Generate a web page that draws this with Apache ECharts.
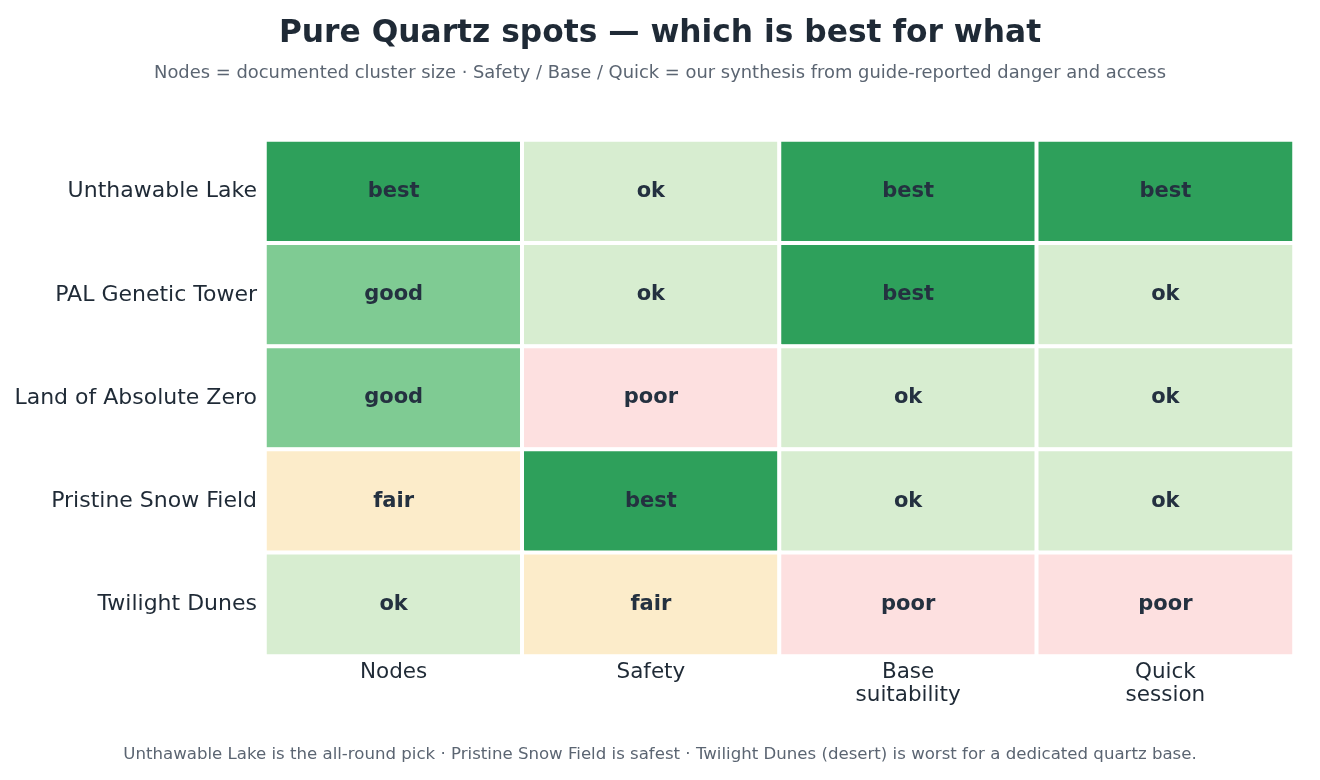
<!DOCTYPE html>
<html>
<head>
<meta charset="utf-8">
<script src="https://cdn.jsdelivr.net/npm/echarts@6/dist/echarts.min.js"></script>
<style>
  html, body { margin: 0; padding: 0; background: #fff; }
  #main { width: 1320px; height: 780px; }
</style>
</head>
<body>
<div id="main"></div>
<script>
// spots (rows, top to bottom) and criteria (columns)
var spots = ['Unthawable Lake', 'PAL Genetic Tower', 'Land of Absolute Zero', 'Pristine Snow Field', 'Twilight Dunes'];
var criteria = ['Nodes', 'Safety', 'Base\nsuitability', 'Quick\nsession'];
// rating scale, index = numeric level
var levels = ['poor', 'fair', 'ok', 'good', 'best'];
var levelColors = ['#fde0e0', '#fcecca', '#d7edd0', '#7fcb93', '#2ea05b'];
// ratings per spot, in criteria order
var ratings = [
  ['best', 'ok', 'best', 'best'],
  ['good', 'ok', 'best', 'ok'],
  ['good', 'poor', 'ok', 'ok'],
  ['fair', 'best', 'ok', 'ok'],
  ['ok', 'fair', 'poor', 'poor']
];

var data = [];
for (var r = 0; r < spots.length; r++) {
  for (var c = 0; c < criteria.length; c++) {
    data.push([c, r, levels.indexOf(ratings[r][c])]);
  }
}

var myChart = echarts.init(document.getElementById('main'));
var font = 'DejaVu Sans';
var option = {
  backgroundColor: '#fff',
  textStyle: { fontFamily: font },
  title: [
    {
      text: 'Pure Quartz spots \u2014 which is best for what',
      left: 'center', top: 13,
      textStyle: { fontFamily: font, fontSize: 31.3, fontWeight: 'bold', color: '#1f2a36' }
    },
    {
      text: 'Nodes = documented cluster size \u00b7 Safety / Base / Quick = our synthesis from guide-reported danger and access',
      left: 'center', top: 59,
      textStyle: { fontFamily: font, fontSize: 17.9, fontWeight: 'normal', color: '#5b6572' }
    },
    {
      text: 'Unthawable Lake is the all-round pick \u00b7 Pristine Snow Field is safest \u00b7 Twilight Dunes (desert) is worst for a dedicated quartz base.',
      left: 'center', top: 741,
      textStyle: { fontFamily: font, fontSize: 16.6, fontWeight: 'normal', color: '#5b6572' }
    }
  ],
  grid: { left: 265, top: 140, width: 1029, height: 516 },
  xAxis: {
    type: 'category',
    data: criteria,
    axisLine: { show: false },
    axisTick: { show: false },
    splitArea: { show: false },
    axisLabel: { fontFamily: font, fontSize: 21.5, color: '#1f2a36', margin: 5, lineHeight: 23 }
  },
  yAxis: {
    type: 'category',
    data: spots,
    inverse: true,
    axisLine: { show: false },
    axisTick: { show: false },
    axisLabel: { fontFamily: font, fontSize: 22, color: '#1f2a36', margin: 8, padding: [3, 0, 0, 0] }
  },
  visualMap: {
    show: false,
    type: 'piecewise',
    dimension: 2,
    pieces: levels.map(function (l, i) { return { value: i, color: levelColors[i] }; })
  },
  series: [{
    type: 'heatmap',
    data: data,
    itemStyle: { borderColor: '#fff', borderWidth: 4 },
    label: {
      show: true,
      fontFamily: font,
      fontSize: 21,
      fontWeight: 'bold',
      color: '#243140',
      formatter: function (p) { return levels[p.value[2]]; }
    },
    emphasis: { disabled: true }
  }]
};
myChart.setOption(option);
</script>
</body>
</html>
